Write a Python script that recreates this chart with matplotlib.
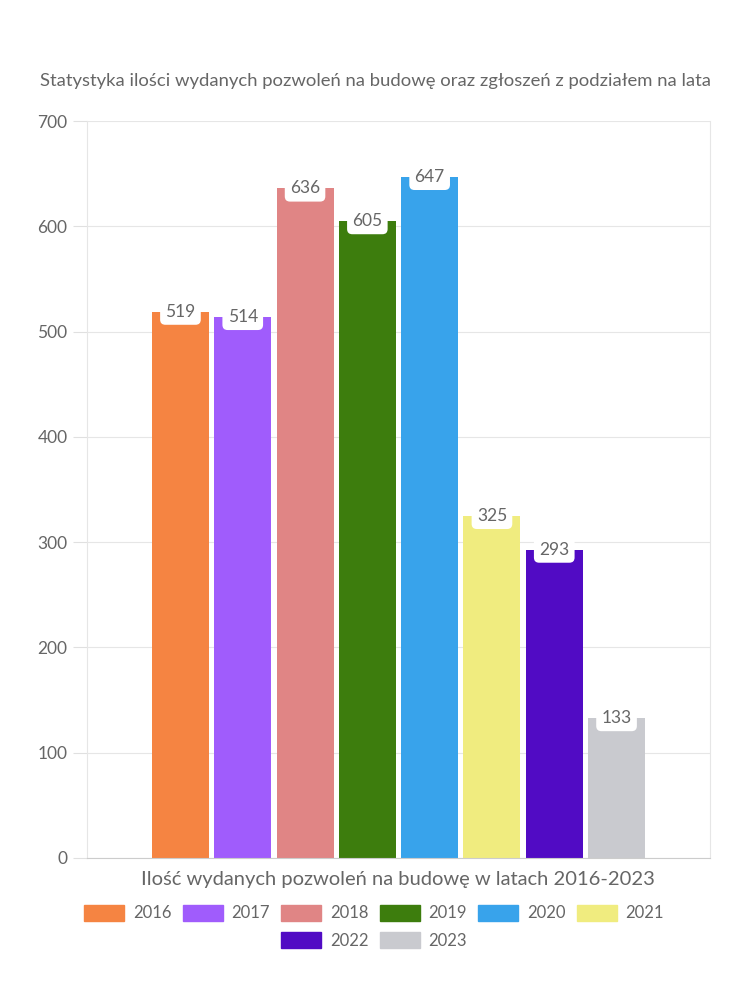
import matplotlib.pyplot as plt
from matplotlib.patches import Patch

plt.rcParams['font.family'] = ['Lato', 'DejaVu Sans']

years = ["2016", "2017", "2018", "2019", "2020", "2021", "2022", "2023"]
values = [519, 514, 636, 605, 647, 325, 293, 133]
colors = ["#F58442", "#A05CFC", "#E08585", "#3D7D0D", "#38A3EB", "#F0EC7F", "#510BC4", "#C9CACF"]
title = "Statystyka ilości wydanych pozwoleń na budowę oraz zgłoszeń z podziałem na lata"
xlabel = "Ilość wydanych pozwoleń na budowę w latach 2016-2023"

txt = "#666666"
fig = plt.figure(figsize=(7.5, 10), dpi=100)
ax = fig.add_axes([87 / 750, 1 - 858 / 1000, 623 / 750, 737 / 1000])

pos = list(range(len(values)))
ax.bar(pos, values, width=0.915, color=colors, zorder=2)

for x, v in zip(pos, values):
    ax.text(x, v, str(v), ha="center", va="center", fontsize=12.5, color=txt, zorder=4,
            bbox=dict(boxstyle="round,pad=0.3,rounding_size=0.3", fc="white", ec="none"))

ax.set_xlim(-1.5, 8.5)
ax.set_ylim(0, 700)
ax.set_yticks(range(0, 701, 100))
ax.set_xticks([])
ax.grid(axis="y", color="#e6e6e6", linewidth=0.8, zorder=0)
for s in ["top", "left", "right"]:
    ax.spines[s].set_color("#e6e6e6")
ax.spines["top"].set_visible(False)
ax.spines["bottom"].set_color("#cccccc")
ax.tick_params(axis="y", colors="#e0e0e0", labelcolor=txt, labelsize=12.5, length=10, pad=4)

fig.text(375 / 750, 1 - 81 / 1000, title, ha="center", va="center", fontsize=13.3, color=txt)
fig.text(398 / 750, 1 - 880 / 1000, xlabel, ha="center", va="center", fontsize=14.5, color=txt)

h1 = [Patch(color=c, label=y) for c, y in zip(colors[:6], years[:6])]
h2 = [Patch(color=c, label=y) for c, y in zip(colors[6:], years[6:])]
kw = dict(frameon=False, fontsize=12, labelcolor=txt, handlelength=2.4, handleheight=1.08,
          handletextpad=0.54, columnspacing=0.66, borderpad=0.1)
fig.legend(handles=h1, ncol=6, loc="center", bbox_to_anchor=(374 / 750, 1 - 913 / 1000), **kw)
fig.legend(handles=h2, ncol=2, loc="center", bbox_to_anchor=(374 / 750, 1 - 940.5 / 1000), **kw)

fig.savefig("out.png", dpi=100, facecolor="white")
